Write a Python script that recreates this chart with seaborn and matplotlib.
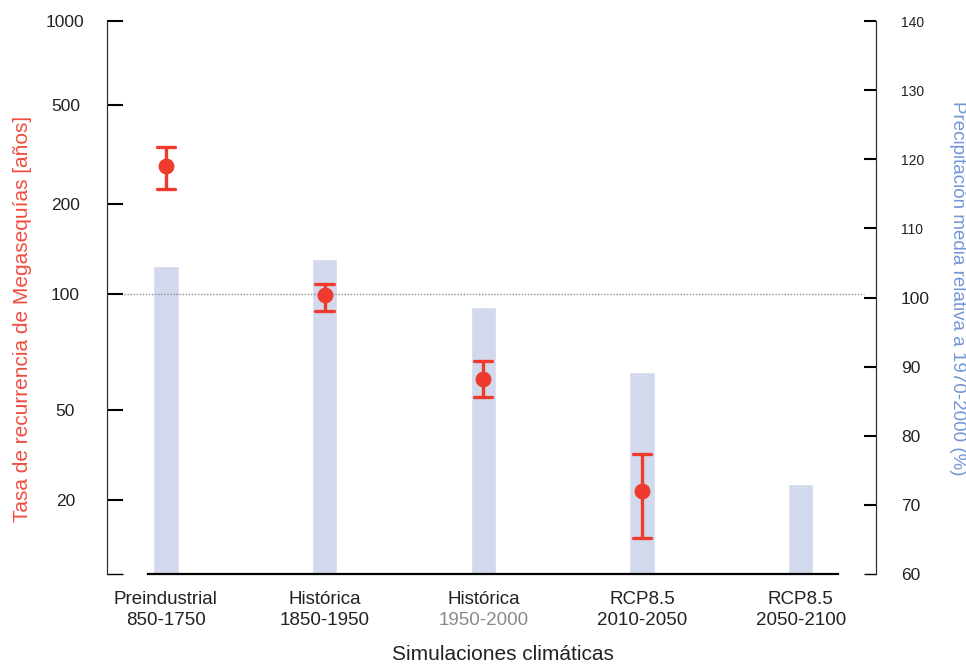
import numpy as np
import pandas as pd
import matplotlib
matplotlib.use("Agg")
import matplotlib.pyplot as plt
import seaborn as sns

# ---- data -------------------------------------------------------------
scenarios = ["Preindustrial", "Histórica", "Histórica", "RCP8.5", "RCP8.5"]
periods = ["850-1750", "1850-1950", "1950-2000", "2010-2050", "2050-2100"]

# mean precipitation relative to 1970-2000 (%)
precip_pct = [104.5, 105.6, 98.7, 89.2, 73.0]

# megadrought recurrence (years): central estimate and range
recurrence_mid = [285, 99, 60, 22]
recurrence_low = [230, 90, 54, 14]
recurrence_high = [340, 108, 67, 32]

left_tick_values = [1000, 500, 200, 100, 50, 20]
right_tick_values = [140, 130, 120, 110, 100, 90, 80, 70, 60]

# ---- styling ----------------------------------------------------------
RED = "#ee3b2e"
RED_TEXT = "#f04c3f"
BLUE_TEXT = "#7396d8"
BAR = "#d3d9ec"
INK = "#222222"

sns.set_style("white")
plt.rcParams["font.family"] = ["Liberation Sans", "DejaVu Sans"]

categories = [f"{s}\n{p}" for s, p in zip(scenarios, periods)]

bars_df = pd.DataFrame({"escenario": categories, "precip": precip_pct})

rec_rows = []
for cat, lo, mid, hi in zip(categories, recurrence_low, recurrence_mid, recurrence_high):
    for v in (lo, mid, hi):
        rec_rows.append({"escenario": cat, "recurrencia": v})
rec_df = pd.DataFrame(rec_rows)

# irregular log-type scale of the recurrence axis (value -> axis fraction)
anchor_vals = np.array([10, 20, 50, 100, 200, 500, 1000], dtype=float)
anchor_frac = np.array([0.0, 0.1338, 0.2966, 0.5069, 0.6685, 0.8481, 1.0])
anchor_log = np.log10(anchor_vals)
s_lo = (anchor_frac[1] - anchor_frac[0]) / (anchor_log[1] - anchor_log[0])
s_hi = (anchor_frac[-1] - anchor_frac[-2]) / (anchor_log[-1] - anchor_log[-2])
ext_log = np.concatenate([[-3.0], anchor_log, [6.0]])
ext_frac = np.concatenate([[anchor_frac[0] - s_lo * (anchor_log[0] + 3.0)],
                           anchor_frac,
                           [anchor_frac[-1] + s_hi * (6.0 - anchor_log[-1])]])


def rec_forward(v):
    v = np.asarray(v, dtype=float)
    with np.errstate(divide="ignore", invalid="ignore"):
        lv = np.log10(v)
    return np.interp(lv, ext_log, ext_frac)


def rec_inverse(f):
    f = np.asarray(f, dtype=float)
    return 10 ** np.interp(f, ext_frac, ext_log)


fig = plt.figure(figsize=(9.66, 6.65), dpi=100)
fig.subplots_adjust(left=0.1108, right=0.9068, top=0.9684, bottom=0.1368)
ax = fig.add_subplot(111)
ax2 = ax.twinx()

# precipitation bars on the right axis
sns.barplot(data=bars_df, x="escenario", y="precip", order=categories,
            color=BAR, saturation=1, width=0.16, ax=ax2, zorder=1)

# recurrence points with their range on the left axis
sns.pointplot(data=rec_df, x="escenario", y="recurrencia", order=categories,
              estimator="median", errorbar=("pi", 100), color=RED,
              marker="o", markersize=9.4, linestyle="none", capsize=0.115,
              err_kws={"linewidth": 2.4}, ax=ax, zorder=5)

ax.set_zorder(ax2.get_zorder() + 1)
ax.patch.set_visible(False)

ax.set_yscale("function", functions=(rec_forward, rec_inverse))
ax.set_ylim(10, 1000)
ax2.set_ylim(60, 140)
ax.set_xlim(-0.371, 4.474)

# reference line at 100
ax.axhline(100, xmin=0.022, xmax=0.984, color="#8c8c8c",
           linestyle=(0, (1, 1.2)), linewidth=1.0, zorder=2)

# ---- spines -----------------------------------------------------------
for a in (ax, ax2):
    a.spines["top"].set_visible(False)
ax.spines["right"].set_visible(False)
ax2.spines["left"].set_visible(False)
ax2.spines["bottom"].set_visible(False)
ax.spines["left"].set_color("#333333")
ax.spines["left"].set_linewidth(0.9)
ax2.spines["right"].set_color("#333333")
ax2.spines["right"].set_linewidth(0.9)
ax.spines["bottom"].set_color("black")
ax.spines["bottom"].set_linewidth(1.6)
ax.spines["bottom"].set_bounds(-0.113, 4.234)

# ---- x axis labels: scenario name, period on a second row ---------------
xpos = np.arange(len(categories))
ax.set_xticks(xpos, scenarios)
ax.tick_params(axis="x", length=0, labelsize=13.5, labelcolor=INK, pad=12.5)

sec = ax.secondary_xaxis("bottom")
sec.set_xticks(xpos, periods)
sec.tick_params(axis="x", length=0, labelsize=13.5, labelcolor=INK, pad=27)
sec.spines["bottom"].set_visible(False)
sec.xaxis.get_major_ticks()[2].label1.set_color("#8a8a8a")

ax.set_xlabel("Simulaciones climáticas", fontsize=15, color=INK)
ax.xaxis.set_label_coords(0.515, -0.1284)

# ---- left axis --------------------------------------------------------
ax.set_yticks([10] + left_tick_values, [""] + [str(v) for v in left_tick_values])
ax.yaxis.set_minor_locator(matplotlib.ticker.NullLocator())
ax.tick_params(axis="y", direction="in", length=11.5, width=1.5, color="black",
               labelsize=12.5, labelcolor=INK, pad=30)
for t in ax.yaxis.get_major_ticks():
    t.label1.set_horizontalalignment("center")
ax.yaxis.get_major_ticks()[0].tick1line.set_color("#777777")
ax.yaxis.get_major_ticks()[0].tick1line.set_markeredgewidth(1.0)

ax.set_ylabel("Tasa de recurrencia de Megasequías [años]", fontsize=15,
              color=RED_TEXT)
ax.yaxis.set_label_coords(-0.1105, 0.462)
ax.yaxis.label.set_rotation_mode("default")
ax.yaxis.label.set_ha("center")
ax.yaxis.label.set_va("center")

# ---- right axis -------------------------------------------------------
ax2.set_yticks(right_tick_values, [str(v) for v in right_tick_values])
ax2.tick_params(axis="y", direction="in", length=8.6, width=1.5, color="black",
                labelsize=12.5, labelcolor=INK, pad=18)
for t, v in zip(ax2.yaxis.get_major_ticks(), right_tick_values):
    if v > 100:
        t.label2.set_fontsize(10)
    if v == 60:
        t.tick2line.set_color("#777777")
        t.tick2line.set_markeredgewidth(1.0)

ax2.set_ylabel("Precipitación media relativa a 1970-2000 (%)", fontsize=13.5,
               color=BLUE_TEXT, rotation=-90)
ax2.yaxis.set_label_coords(1.1066, 0.516)
ax2.yaxis.label.set_rotation_mode("default")
ax2.yaxis.label.set_ha("center")
ax2.yaxis.label.set_va("center")

ax.grid(False)
ax2.grid(False)

fig.savefig("out.png", dpi=100)
